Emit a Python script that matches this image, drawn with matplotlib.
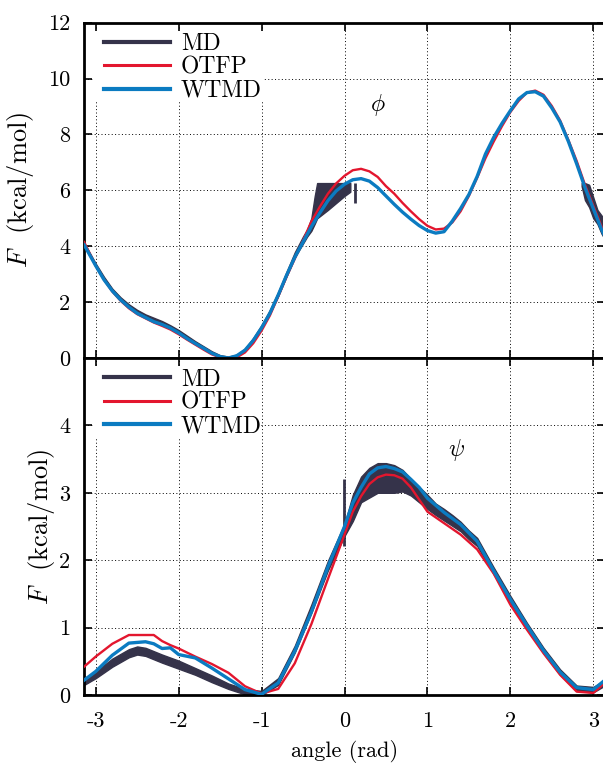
import numpy as np
import matplotlib
matplotlib.use("Agg")
import matplotlib.pyplot as plt
from matplotlib.patches import Rectangle

plt.rcParams['font.family'] = 'serif'
plt.rcParams['font.serif'] = ['cmr10', 'DejaVu Serif']
plt.rcParams['mathtext.fontset'] = 'cm'
plt.rcParams['axes.unicode_minus'] = False
plt.rcParams['font.size'] = 16

c_md = '#35334a'
c_otfp = '#e3162e'
c_wtmd = '#0b7bc1'

# ---- phi panel ----
phi_x = [-3.14, -3.0, -2.9, -2.8, -2.7, -2.6, -2.5, -2.4, -2.3, -2.2, -2.1, -2.0, -1.9, -1.8,
         -1.7, -1.6, -1.5, -1.4, -1.3, -1.2, -1.1, -1.0, -0.9, -0.8, -0.7, -0.6, -0.5, -0.4,
         -0.3, -0.2, -0.1, 0.0, 0.1, 0.2, 0.3, 0.4, 0.5, 0.6, 0.7, 0.8, 0.9, 1.0, 1.1, 1.2,
         1.3, 1.4, 1.5, 1.6, 1.7, 1.8, 1.9, 2.0, 2.1, 2.2, 2.3, 2.4, 2.5, 2.6, 2.7, 2.8, 2.9,
         3.0, 3.1, 3.14]
phi_wtmd = [4.05, 3.3, 2.8, 2.4, 2.08, 1.82, 1.6, 1.45, 1.3, 1.2, 1.07, 0.9, 0.7, 0.52,
            0.35, 0.17, 0.05, 0.0, 0.08, 0.28, 0.63, 1.08, 1.6, 2.25, 2.95, 3.6, 4.15, 4.7,
            5.18, 5.63, 5.98, 6.22, 6.38, 6.42, 6.33, 6.1, 5.8, 5.5, 5.22, 4.97, 4.74, 4.56, 4.47, 4.52,
            4.9, 5.35, 5.85, 6.5, 7.3, 7.9, 8.4, 8.85, 9.27, 9.5, 9.53, 9.37, 8.95, 8.45, 7.75, 6.95, 6.1,
            5.35, 4.6, 4.35]
phi_otfp = [4.15, 3.3, 2.8, 2.38, 2.05, 1.78, 1.57, 1.42, 1.27, 1.15, 1.02, 0.85, 0.66, 0.48,
            0.3, 0.13, 0.02, 0.0, 0.02, 0.2, 0.53, 0.98, 1.52, 2.2, 2.9, 3.55, 4.2, 4.88,
            5.4, 5.88, 6.25, 6.52, 6.72, 6.77, 6.68, 6.48, 6.15, 5.88, 5.55, 5.25, 4.97, 4.73, 4.6, 4.63,
            4.85, 5.25, 5.8, 6.45, 7.15, 7.75, 8.3, 8.8, 9.2, 9.5, 9.57, 9.42, 9.02, 8.5, 7.8, 7.05, 6.2,
            5.45, 4.7, 4.4]

# MD (noisy histogram estimate): band edges, sampled region left of the barrier
md_phi_x1 = [-3.14, -3.0, -2.9, -2.8, -2.7, -2.6, -2.5, -2.4, -2.3, -2.2, -2.1, -2.0, -1.9,
             -1.8, -1.7, -1.6, -1.5, -1.4, -1.3, -1.2, -1.1, -1.0, -0.9, -0.8, -0.7, -0.6,
             -0.5, -0.45, -0.4, -0.36, -0.33, -0.2, -0.1, 0.0, 0.07]
md_phi_lo1 = [4.0, 3.27, 2.8, 2.37, 2.07, 1.82, 1.62, 1.45, 1.32, 1.2, 1.05, 0.88, 0.69,
              0.5, 0.33, 0.16, 0.03, 0.0, 0.06, 0.27, 0.62, 1.08, 1.6, 2.22, 2.92, 3.6,
              4.1, 4.35, 4.55, 4.8, 5.0, 5.3, 5.55, 5.8, 5.95]
md_phi_hi1 = [4.12, 3.38, 2.9, 2.48, 2.17, 1.92, 1.72, 1.56, 1.44, 1.32, 1.17, 1.0, 0.8,
              0.6, 0.42, 0.24, 0.1, 0.05, 0.12, 0.34, 0.72, 1.18, 1.72, 2.36, 3.08, 3.78,
              4.35, 4.6, 5.0, 5.78, 6.26, 6.26, 6.26, 6.26, 6.26]
md_phi_x2 = [2.86, 2.9, 2.95, 3.0, 3.05, 3.1, 3.14]
md_phi_lo2 = [6.15, 5.65, 5.4, 5.0, 4.8, 4.45, 4.25]
md_phi_hi2 = [6.26, 6.26, 6.2, 5.75, 5.3, 5.1, 4.9]
md_phi_spike_x = [0.13]
md_phi_spike_lo = [5.54]
md_phi_spike_hi = [6.26]

# ---- psi panel ----
psi_x = [-3.14, -3.0, -2.8, -2.6, -2.4, -2.3, -2.2, -2.1, -2.0, -1.8, -1.6, -1.4, -1.2, -1.0,
         -0.8, -0.6, -0.4, -0.2, 0.0, 0.1, 0.2, 0.3, 0.4, 0.5, 0.6, 0.7, 0.8, 0.9, 1.0,
         1.2, 1.4, 1.6, 1.8, 2.0, 2.2, 2.4, 2.6, 2.8, 3.0, 3.14]
psi_wtmd = [0.22, 0.35, 0.59, 0.77, 0.79, 0.76, 0.69, 0.7, 0.6, 0.55, 0.4, 0.24, 0.08, 0.01,
            0.18, 0.65, 1.23, 1.9, 2.5, 2.85, 3.08, 3.28, 3.37, 3.39, 3.36, 3.31, 3.2, 3.08, 2.92,
            2.71, 2.53, 2.28, 1.84, 1.42, 1.03, 0.66, 0.34, 0.11, 0.08, 0.22]
psi_otfp = [0.42, 0.57, 0.76, 0.89, 0.89, 0.89, 0.8, 0.74, 0.69, 0.57, 0.46, 0.33, 0.13, 0.02,
            0.09, 0.47, 1.05, 1.72, 2.38, 2.72, 2.95, 3.13, 3.23, 3.27, 3.26, 3.21, 3.08, 2.9, 2.72,
            2.55, 2.38, 2.16, 1.8, 1.34, 0.97, 0.62, 0.3, 0.05, 0.03, 0.18]
md_psi_x = [-3.14, -3.0, -2.8, -2.6, -2.5, -2.4, -2.2, -2.0, -1.8, -1.6, -1.4, -1.2, -1.0,
            -0.8, -0.6, -0.4, -0.2, 0.0, 0.1, 0.2, 0.3, 0.4, 0.5, 0.6, 0.7, 0.8, 0.9, 1.0,
            1.1, 1.2, 1.3, 1.4, 1.5, 1.6, 1.8, 2.0, 2.2, 2.4, 2.6, 2.8, 3.0, 3.14]
md_psi_lo = [0.15, 0.25, 0.42, 0.56, 0.6, 0.58, 0.48, 0.39, 0.3, 0.19, 0.09, 0.01, 0.0,
             0.15, 0.63, 1.22, 1.85, 2.36, 2.58, 2.86, 2.93, 3.0, 3.0, 3.0, 3.02, 2.96, 2.86, 2.76,
             2.67, 2.59, 2.51, 2.43, 2.31, 2.21, 1.79, 1.37, 0.99, 0.62, 0.3, 0.06, 0.04, 0.14]
md_psi_hi = [0.25, 0.35, 0.54, 0.68, 0.72, 0.7, 0.6, 0.51, 0.4, 0.29, 0.17, 0.09, 0.06,
             0.25, 0.73, 1.34, 1.99, 2.54, 2.97, 3.24, 3.37, 3.44, 3.44, 3.41, 3.34, 3.21, 3.09, 2.97,
             2.84, 2.76, 2.67, 2.57, 2.44, 2.33, 1.89, 1.47, 1.07, 0.7, 0.38, 0.14, 0.12, 0.22]
md_psi_spike_x = [-0.01]
md_psi_spike_lo = [2.21]
md_psi_spike_hi = [3.2]

W, H = 603, 766
fig = plt.figure(figsize=(W / 100, H / 100), dpi=100)
left = 84 / W
width = (605 - 84) / W
ax1 = fig.add_axes([left, 1 - 358 / H, width, (358 - 22.7) / H])
ax2 = fig.add_axes([left, 1 - 695 / H, width, (695 - 358) / H])


def draw_md(ax, x, lo, hi):
    ax.fill_between(x, lo, hi, facecolor=c_md, edgecolor=c_md, lw=1.0, zorder=2)


# top panel
draw_md(ax1, md_phi_x1, md_phi_lo1, md_phi_hi1)
draw_md(ax1, md_phi_x2, md_phi_lo2, md_phi_hi2)
ax1.vlines(md_phi_spike_x, md_phi_spike_lo, md_phi_spike_hi, color=c_md, lw=2, zorder=2)
ax1.plot(phi_x, phi_otfp, color=c_otfp, lw=1.7, zorder=3)
ax1.plot(phi_x, phi_wtmd, color=c_wtmd, lw=2.4, zorder=4)

# bottom panel
draw_md(ax2, md_psi_x, md_psi_lo, md_psi_hi)
ax2.vlines(md_psi_spike_x, md_psi_spike_lo, md_psi_spike_hi, color=c_md, lw=2, zorder=2)
ax2.plot(psi_x, psi_otfp, color=c_otfp, lw=1.7, zorder=3)
ax2.plot(psi_x, psi_wtmd, color=c_wtmd, lw=2.4, zorder=4)

for ax in (ax1, ax2):
    ax.set_xlim(-np.pi, np.pi)
    ax.set_xticks([-3, -2, -1, 0, 1, 2, 3])
    ax.grid(True, color='k', linestyle=(0, (1, 2.5)), linewidth=0.7)
    ax.tick_params(direction='in', top=True, right=True, length=6, width=1.2, labelsize=16)
    ax.tick_params(axis='y', pad=10)
    ax.tick_params(axis='x', pad=12)
    for s in ax.spines.values():
        s.set_linewidth(2)
    # legend without frame; the white patch below hides the grid behind it
    h1, = ax.plot([], [], color=c_md, lw=3, label='MD')
    h2, = ax.plot([], [], color=c_otfp, lw=2.2, label='OTFP')
    h3, = ax.plot([], [], color=c_wtmd, lw=3, label='WTMD')
    ax.legend(handles=[h1, h2, h3], loc='upper left', frameon=False,
              bbox_to_anchor=(20 / 521, 1 - 10.5 / 335), borderpad=0, borderaxespad=0,
              handlelength=2.8, handletextpad=0.45, labelspacing=0.05, fontsize=17)

ax1.add_patch(Rectangle((0.018, 0.769), 0.326, 0.207, transform=ax1.transAxes,
                        facecolor='white', edgecolor='none', zorder=1.6))
ax2.add_patch(Rectangle((0.018, 0.764), 0.320, 0.212, transform=ax2.transAxes,
                        facecolor='white', edgecolor='none', zorder=1.6))

ax1.set_ylim(0, 12)
ax1.set_yticks([0, 2, 4, 6, 8, 10, 12])
ax1.tick_params(labelbottom=False)
ax2.set_ylim(0, 5)
ax2.set_yticks([0, 1, 2, 3, 4])

ax1.set_ylabel(r'$F$  (kcal/mol)', va='center', fontsize=19)
ax1.yaxis.set_label_coords(-0.121, 0.5)
ax2.set_ylabel(r'$F$  (kcal/mol)', va='center', fontsize=19)
ax2.yaxis.set_label_coords(-0.0825, 0.5)
ax2.set_xlabel('angle (rad)', fontsize=16)
ax2.xaxis.set_label_coords(0.5, -0.135)

ax1.text(0.4, 9.05, r'$\phi$', fontsize=17, ha='center', va='center')
ax2.text(1.35, 3.64, r'$\psi$', fontsize=17, ha='center', va='center')

fig.savefig('out.png', dpi=100)
